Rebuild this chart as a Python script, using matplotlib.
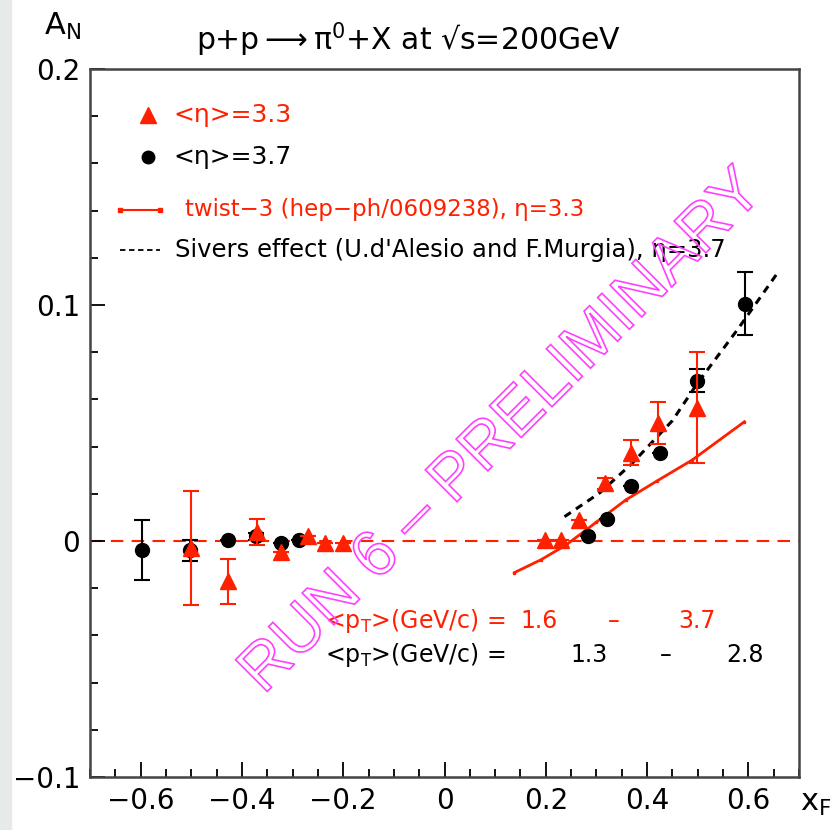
import numpy as np
import matplotlib
matplotlib.use('Agg')
import matplotlib.pyplot as plt
import matplotlib.patheffects as pe
from matplotlib.patches import Rectangle
from matplotlib.ticker import MultipleLocator

plt.rcParams['font.family'] = ['DejaVu Sans']
plt.rcParams['mathtext.default'] = 'regular'

RED = '#ff2000'

# <eta> = 3.3 (red triangles)
x_eta33 = [-0.501, -0.428, -0.371, -0.322, -0.270, -0.235, -0.201,
           0.199, 0.231, 0.266, 0.316, 0.369, 0.422, 0.499]
y_eta33 = [-0.003, -0.017, 0.004, -0.0045, 0.002, -0.0007, -0.0007,
           0.0004, 0.0004, 0.0089, 0.0244, 0.0373, 0.0498, 0.0565]
e_eta33 = [0.0243, 0.0095, 0.0055, 0.0, 0.0, 0.0, 0.0,
           0.0, 0.0, 0.0, 0.0025, 0.0053, 0.0089, 0.0234]

# <eta> = 3.7 (black circles)
x_eta37 = [-0.598, -0.503, -0.428, -0.373, -0.323, -0.288,
           0.284, 0.321, 0.369, 0.425, 0.498, 0.594]
y_eta37 = [-0.004, -0.004, 0.0004, 0.002, -0.001, 0.0005,
           0.0022, 0.0092, 0.0233, 0.0373, 0.068, 0.1005]
e_eta37 = [0.0127, 0.0045, 0.0, 0.0015, 0.0, 0.0,
           0.0, 0.0, 0.0, 0.0, 0.0047, 0.0134]

# twist-3 curve
x_twist = [0.138, 0.19, 0.24, 0.30, 0.358, 0.42, 0.489, 0.592]
y_twist = [-0.0134, -0.008, -0.0017, 0.008, 0.0174, 0.0255, 0.0343, 0.0505]

# Sivers curve
x_sivers = [0.237, 0.306, 0.371, 0.45, 0.50, 0.58, 0.657]
y_sivers = [0.0103, 0.0203, 0.033, 0.051, 0.067, 0.090, 0.1134]

fig = plt.figure(figsize=(8.36, 8.30), dpi=100)
fig.patches.append(Rectangle((0, 0), 11 / 836, 1, transform=fig.transFigure,
                             color='#e6eae8', zorder=0))
ax = fig.add_axes([90 / 836, 1 - 777 / 830, 709 / 836, 708 / 830])

ax.axhline(0, color=RED, lw=1.5, dashes=(6, 4), zorder=1)

ax.plot(x_twist, y_twist, color=RED, lw=2, marker='s', ms=2, zorder=2)
ax.plot(x_sivers, y_sivers, color='black', lw=2.2, dashes=(2.5, 2), zorder=2)

ax.errorbar(x_eta37, y_eta37, yerr=e_eta37, fmt='o', color='black', ms=10,
            elinewidth=1.5, capsize=6, capthick=1.5, zorder=3)
ax.errorbar(x_eta33, y_eta33, yerr=e_eta33, fmt='^', color=RED, ms=11,
            elinewidth=1.5, capsize=6, capthick=1.5, zorder=4)

ax.set_xlim(-0.7, 0.7)
ax.set_ylim(-0.1, 0.2)
ax.xaxis.set_minor_locator(MultipleLocator(0.05))
ax.yaxis.set_minor_locator(MultipleLocator(0.02))
ax.set_xticks([-0.6, -0.4, -0.2, 0, 0.2, 0.4, 0.6])
ax.set_xticklabels(['\u22120.6', '\u22120.4', '\u22120.2', '0', '0.2', '0.4', '0.6'])
ax.set_yticks([-0.1, 0, 0.1, 0.2])
ax.set_yticklabels(['\u22120.1', '0', '0.1', '0.2'])
ax.tick_params(which='both', direction='in', top=False, right=False, labelsize=20, width=1.3)
ax.tick_params(which='major', length=11, pad=7)
ax.tick_params(which='minor', length=6)
for s in ax.spines.values():
    s.set_linewidth(1.8)
    s.set_color('#444444')

# legend drawn by hand
ax.plot([0.082], [0.935], '^', color=RED, ms=11, transform=ax.transAxes)
ax.text(0.118, 0.935, '<\u03b7>=3.3', color=RED, fontsize=18, va='center', transform=ax.transAxes)
ax.plot([0.082], [0.876], 'o', color='black', ms=9, transform=ax.transAxes)
ax.text(0.118, 0.876, '<\u03b7>=3.7', color='black', fontsize=18, va='center', transform=ax.transAxes)
ax.plot([0.042, 0.099], [0.801, 0.801], color=RED, lw=1.5, marker='s', ms=3,
        markevery=[0, 1], transform=ax.transAxes)
ax.text(0.134, 0.801, 'twist\u22123 (hep\u2212ph/0609238), \u03b7=3.3', color=RED,
        fontsize=16.5, va='center', transform=ax.transAxes)
ax.plot([0.042, 0.099], [0.744, 0.744], color='black', lw=1.3, dashes=(3, 2),
        transform=ax.transAxes)
ax.text(0.120, 0.744, "Sivers effect (U.d'Alesio and F.Murgia), \u03b7=3.7", color='black',
        fontsize=17.5, va='center', transform=ax.transAxes)

# pT ranges
ax.text(0.331, 0.220, '<p$_T$>(GeV/c) =', color=RED, fontsize=17, va='center', transform=ax.transAxes)
ax.text(0.607, 0.220, '1.6', color=RED, fontsize=17, va='center', transform=ax.transAxes)
ax.text(0.739, 0.220, '\u2013', color=RED, fontsize=17, va='center', ha='center', transform=ax.transAxes)
ax.text(0.830, 0.220, '3.7', color=RED, fontsize=17, va='center', transform=ax.transAxes)
ax.text(0.331, 0.172, '<p$_T$>(GeV/c) =', color='black', fontsize=17, va='center', transform=ax.transAxes)
ax.text(0.677, 0.172, '1.3', color='black', fontsize=17, va='center', transform=ax.transAxes)
ax.text(0.812, 0.172, '\u2013', color='black', fontsize=17, va='center', ha='center', transform=ax.transAxes)
ax.text(0.897, 0.172, '2.8', color='black', fontsize=17, va='center', transform=ax.transAxes)

# watermark
wm = ax.text(0.114, 0.046, 'RUN 6 \u2013 PRELIMINARY', fontsize=47, rotation=45,
             family='Liberation Sans', ha='center', va='center',
             rotation_mode='anchor', zorder=5)
wm.set_path_effects([pe.PathPatchEffect(edgecolor='#ff40ff', facecolor='none', linewidth=1.2)])

fig.text(0.488, 0.952, 'p+p$\\longrightarrow\\pi^0$+X at \u221as=200GeV', fontsize=21.5,
         ha='center', va='center')
fig.text(0.053, 0.968, 'A$_N$', fontsize=22, ha='left', va='center')
fig.text(0.957, 0.032, 'x$_F$', fontsize=22, ha='left', va='center')

fig.savefig('out.png', dpi=100)
